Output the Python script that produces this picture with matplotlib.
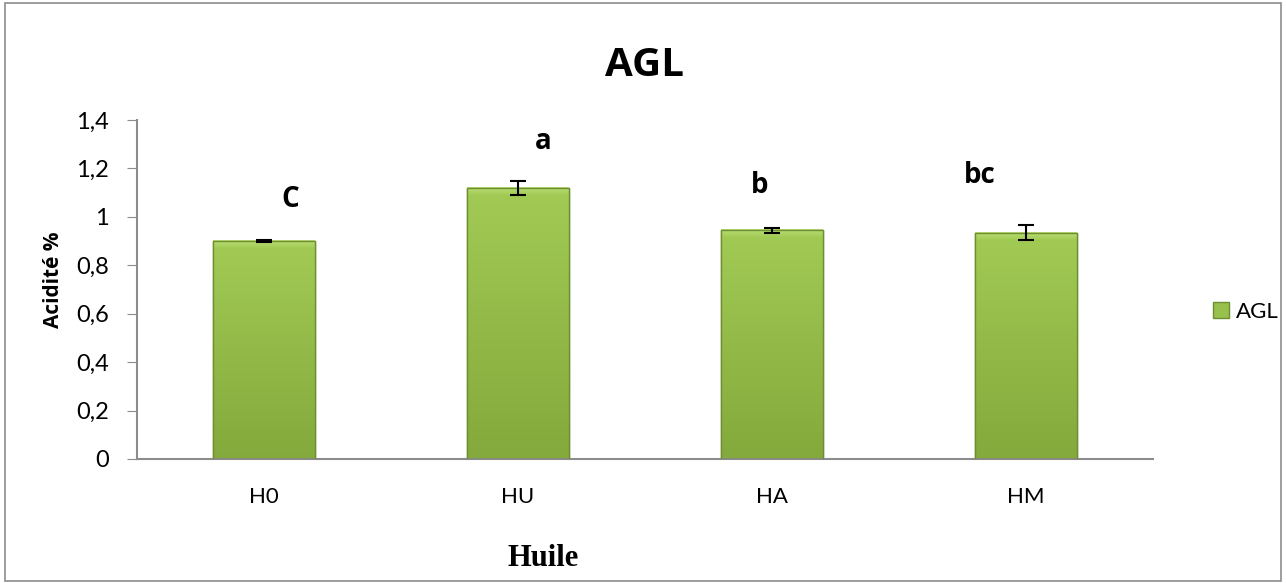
import numpy as np
import matplotlib
matplotlib.use("Agg")
import matplotlib.pyplot as plt
from matplotlib.patches import Rectangle, Patch
from matplotlib.colors import LinearSegmentedColormap

# Free fatty acid (AGL) acidity per oil sample
categories = ["H0", "HU", "HA", "HM"]
acidity = [0.90, 1.12, 0.945, 0.935]
errors = [0.003, 0.03, 0.01, 0.03]
letters = ["C", "a", "b", "bc"]
letter_x = [0.105, 1.10, 1.95, 2.82]
letter_y = [1.07, 1.31, 1.13, 1.17]

plt.rcParams['font.family'] = ['Lato', 'DejaVu Sans']

fig = plt.figure(figsize=(12.86, 5.83), dpi=100)
ax = fig.add_axes([0.1065, 0.2127, 0.790, 0.5815])

x = np.arange(len(categories))
bars = ax.bar(x, acidity, width=0.4, color="#98c04c", edgecolor="#6e8f31",
              linewidth=1.0, zorder=2)

# vertical green gradient inside each bar, lighter bevel on top
green = LinearSegmentedColormap.from_list("g", ["#84a93c", "#a2cb55"])
light = LinearSegmentedColormap.from_list("t", ["#a2cb55", "#bcdd78"])
grad = np.linspace(0, 1, 256).reshape(-1, 1)
for b in bars:
    x0, w, h = b.get_x(), b.get_width(), b.get_height()
    im = ax.imshow(grad, cmap=green, aspect="auto", origin="lower",
                   extent=[x0, x0 + w, 0, h], zorder=2.5)
    im.set_clip_path(b)
    ax.imshow(grad, cmap=light, aspect="auto", origin="lower",
              extent=[x0, x0 + w, h - 0.03, h], zorder=2.6)
    ax.add_patch(Rectangle((x0, 0), w, h, fill=False, edgecolor="#6e8f31",
                           linewidth=1.0, zorder=2.7))

ax.errorbar(x, acidity, yerr=errors, fmt="none", ecolor="black",
            elinewidth=1.5, capsize=6, capthick=1.5, zorder=4)

for xi, yi, t in zip(letter_x, letter_y, letters):
    ax.text(xi, yi, t, ha="center", va="center", fontsize=20,
            fontweight="bold", family=["Open Sans", "DejaVu Sans"])

ax.set_xlim(-0.5, len(categories) - 0.5)
ax.set_ylim(0, 1.4)
ax.set_yticks(np.arange(0, 1.41, 0.2))
ax.set_yticklabels(["0", "0,2", "0,4", "0,6", "0,8", "1", "1,2", "1,4"])
ax.set_xticks(x)
ax.set_xticklabels(categories)
ax.tick_params(axis="y", length=7, color="#8c8c8c", labelsize=17, pad=13)
ax.tick_params(axis="x", length=0, labelsize=16, pad=20)

for s in ["top", "right"]:
    ax.spines[s].set_visible(False)
for s in ["left", "bottom"]:
    ax.spines[s].set_color("#8c8c8c")
    ax.spines[s].set_linewidth(1.5)

ax.set_ylabel("Acidité %", fontsize=15, fontweight="bold",
              family=["Open Sans", "DejaVu Sans"])
ax.yaxis.set_label_coords(-0.072, 0.53)
ax.set_xlabel("Huile", fontsize=22, fontweight="bold",
              family="Liberation Serif")
ax.xaxis.set_label_coords(0.40, -0.25)
ax.set_title("AGL", fontsize=29, fontweight="bold",
             family=["Open Sans", "DejaVu Sans"], pad=32)

handle = Patch(facecolor="#98c04c", edgecolor="#6e8f31")
fig.legend([handle], ["AGL"], loc="center left",
           bbox_to_anchor=(0.928, 0.465), frameon=False, fontsize=16,
           handlelength=0.7, handleheight=0.7, handletextpad=0.3)

# chart area border
fig.patches.append(Rectangle((0.004, 0.004), 0.992, 0.991,
                             transform=fig.transFigure, fill=False,
                             edgecolor="#8c8c8c", linewidth=1.2))

fig.savefig("out.png", dpi=100)
